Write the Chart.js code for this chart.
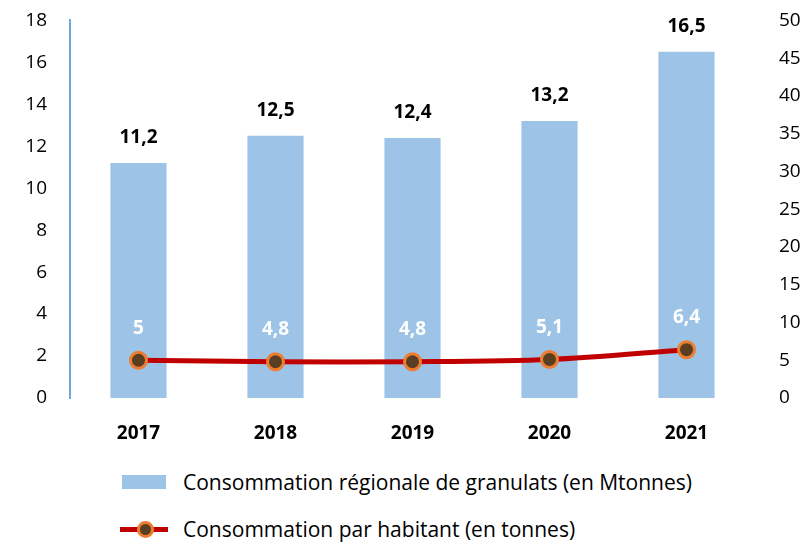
<!DOCTYPE html>
<html><head><meta charset="utf-8">
<script src="https://cdn.jsdelivr.net/npm/chart.js@4/dist/chart.umd.min.js"></script>
<style>
html,body{margin:0;padding:0;background:#fff;overflow:hidden;}
#wrap{position:relative;width:807px;height:542px;font-family:'Open Sans', sans-serif;overflow:hidden;}
canvas{position:absolute;left:0;top:-7px;}
.leg{position:absolute;left:0;font-size:21px;color:#000;white-space:nowrap;}
.leg .txt{position:absolute;left:183px;top:0;line-height:24px;}
.box{position:absolute;left:122px;top:5px;width:44px;height:14px;background:#9DC3E6;}
.ln{position:absolute;left:120px;top:10px;width:48px;height:5px;background:#C00000;}
.dot{position:absolute;left:137px;top:4px;width:11px;height:11px;border-radius:50%;background:#5A3E22;border:3px solid #ED7D31;}
</style></head>
<body><div id="wrap">
<canvas id="c" width="807" height="467"></canvas>
<div class="leg" style="top:470px;width:807px;height:24px"><div class="box"></div><span class="txt">Consommation régionale de granulats (en Mtonnes)</span></div>
<div class="leg" style="top:517px;width:807px;height:24px"><div class="ln"></div><div class="dot"></div><span class="txt">Consommation par habitant (en tonnes)</span></div>
</div>
<script>
const categories = ['2017','2018','2019','2020','2021'];
const regionalValues = [11.2, 12.5, 12.4, 13.2, 16.5];
const perCapitaValues = [5, 4.8, 4.8, 5.1, 6.4];
const leftTicks = [0,2,4,6,8,10,12,14,16,18];
const rightTicks = [0,5,10,15,20,25,30,35,40,45,50];
const FONT = "'Open Sans', sans-serif";
const fmt = v => String(v).replace('.', ',');

const labelPlugin = {
  id:'labels',
  afterDatasetsDraw(chart){
    const ctx = chart.ctx;
    ctx.save();
    ctx.textAlign='center'; ctx.textBaseline='middle';
    ctx.font = 'bold 19px ' + FONT;
    chart.getDatasetMeta(1).data.forEach((el,i)=>{
      ctx.fillStyle='#000';
      ctx.fillText(fmt(regionalValues[i]), el.x, el.y-25);
    });
    chart.getDatasetMeta(0).data.forEach((el,i)=>{
      ctx.fillStyle='#fff';
      ctx.fillText(fmt(perCapitaValues[i]), el.x, el.y-32);
    });
    ctx.restore();
  }
};

new Chart(document.getElementById('c'), {
  data:{
    labels: categories,
    datasets:[
      {type:'line', label:'Consommation par habitant (en tonnes)', data: perCapitaValues, yAxisID:'y2',
       borderColor:'#C00000', borderWidth:5, pointRadius:8, pointBorderWidth:3,
       pointBackgroundColor:'#5A3E22', pointBorderColor:'#ED7D31', tension:0.3, order:0},
      {type:'bar', label:'Consommation régionale de granulats (en Mtonnes)', data: regionalValues, yAxisID:'y',
       backgroundColor:'#9DC3E6', categoryPercentage:1, barPercentage:0.41, order:1}
    ]
  },
  options:{
    responsive:false, animation:false,
    layout:{padding:{top:0,left:0,right:0,bottom:0}},
    plugins:{legend:{display:false}, tooltip:{enabled:false}},
    scales:{
      x:{grid:{display:false}, border:{display:false},
         ticks:{color:'#000', font:{family:FONT, size:19, weight:'bold'}, padding:16},
         afterFit(s){ s.height = 62; }},
      y:{position:'left', min:0, max:18, afterBuildTicks(s){ s.ticks = leftTicks.map(v=>({value:v})); },
         grid:{display:false}, border:{display:true, color:'#6FA8DC', width:2},
         ticks:{color:'#000', font:{family:FONT, size:19}, padding:15},
         afterFit(s){ s.width = 70; }},
      y2:{position:'right', min:0, max:50, afterBuildTicks(s){ s.ticks = rightTicks.map(v=>({value:v})); },
         grid:{display:false}, border:{display:false},
         ticks:{color:'#000', font:{family:FONT, size:19}, padding:16},
         afterFit(s){ s.width = 52; }}
    }
  },
  plugins:[labelPlugin]
});
</script>
</body></html>
